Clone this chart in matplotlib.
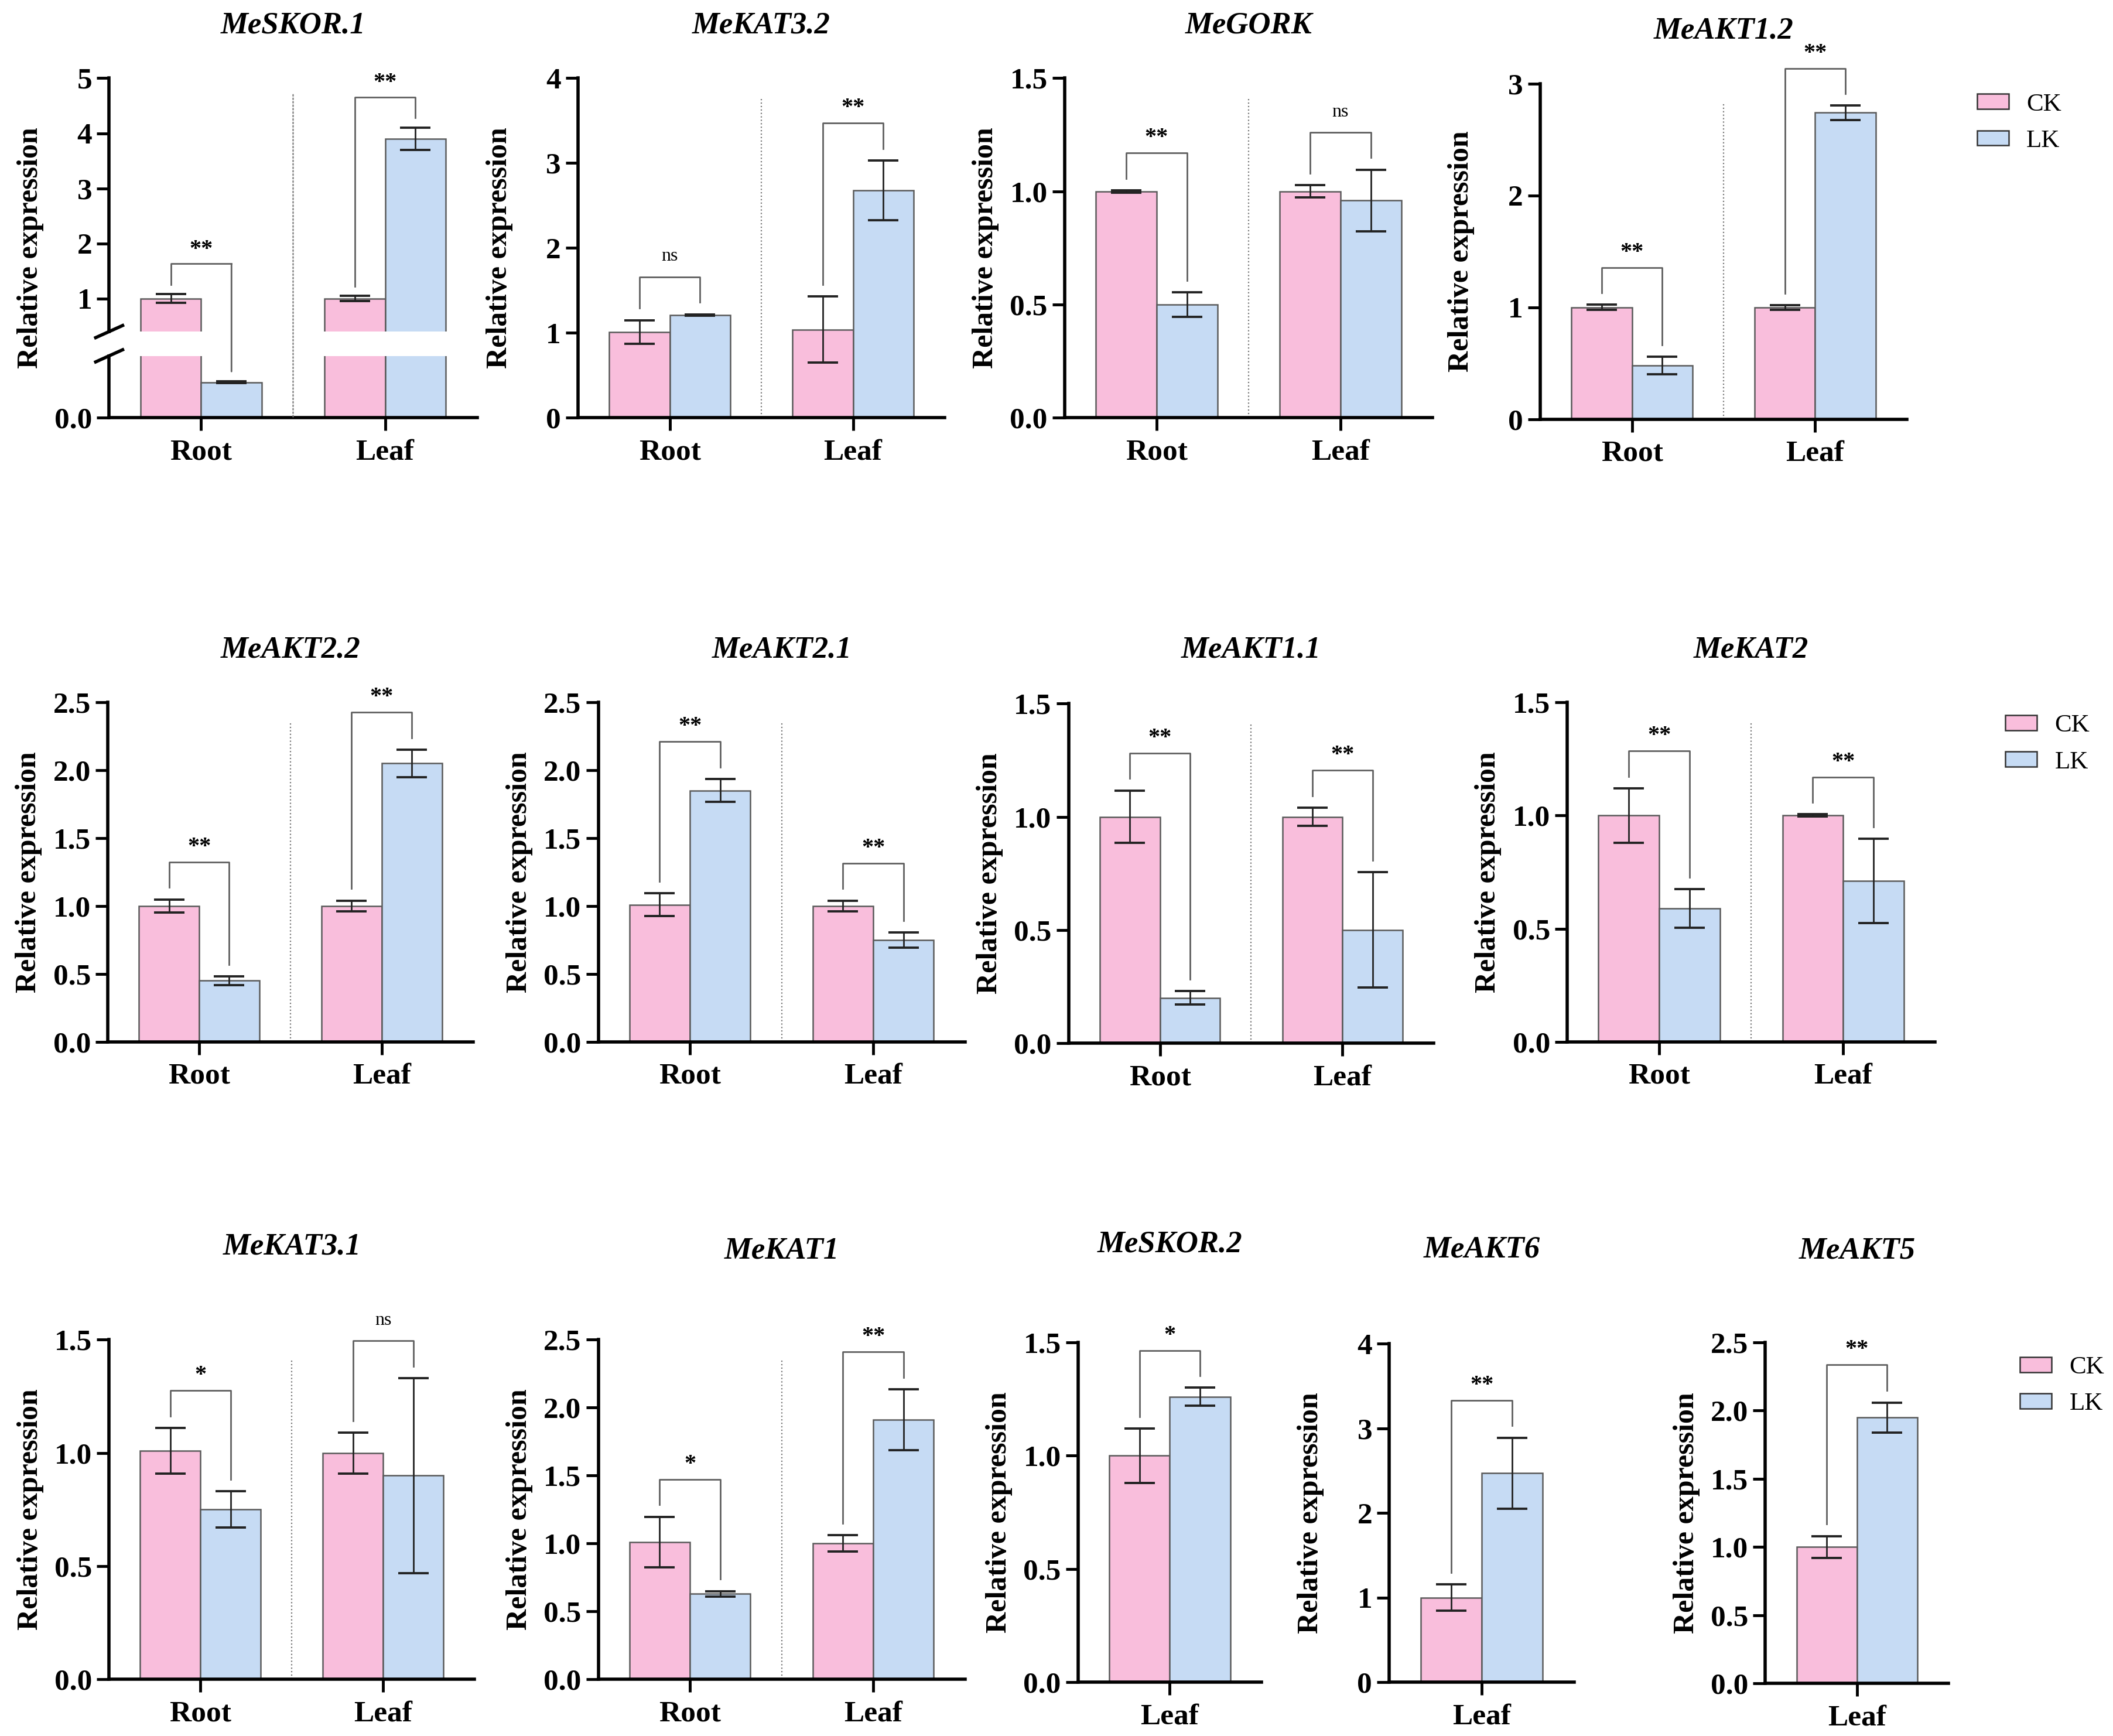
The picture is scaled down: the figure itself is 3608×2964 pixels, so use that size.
import numpy as np
import matplotlib
matplotlib.use('Agg')
import matplotlib.pyplot as plt
from matplotlib.patches import Patch, ConnectionPatch

plt.rcParams['font.family'] = ['Liberation Serif', 'DejaVu Serif']

# ---- data (mean and error of CK / LK) ----
genes = ['MeSKOR.1', 'MeKAT3.2', 'MeGORK', 'MeAKT1.2',
         'MeAKT2.2', 'MeAKT2.1', 'MeAKT1.1', 'MeKAT2',
         'MeKAT3.1', 'MeKAT1', 'MeSKOR.2', 'MeAKT6', 'MeAKT5']
tissues = [['Root', 'Leaf']] * 10 + [['Leaf']] * 3

ck_mean = [[1.00, 1.00], [1.01, 1.04], [1.00, 1.00], [1.00, 1.00],
           [1.00, 1.00], [1.01, 1.00], [1.00, 1.00], [1.00, 1.00],
           [1.01, 1.00], [1.01, 1.00], [1.00], [1.00], [1.00]]
ck_err = [[0.08, 0.05], [0.14, 0.39], [0.005, 0.027], [0.024, 0.02],
          [0.048, 0.04], [0.084, 0.04], [0.116, 0.04], [0.12, 0.005],
          [0.10, 0.09], [0.187, 0.06], [0.12], [0.155], [0.08]]
lk_mean = [[0.23, 3.90], [1.21, 2.68], [0.50, 0.96], [0.48, 2.74],
           [0.45, 2.05], [1.85, 0.75], [0.20, 0.50], [0.59, 0.71],
           [0.75, 0.90], [0.63, 1.91], [1.26], [2.47], [1.95]]
lk_err = [[0.005, 0.205], [0.01, 0.35], [0.055, 0.136], [0.08, 0.065],
          [0.033, 0.10], [0.085, 0.055], [0.03, 0.255], [0.085, 0.186],
          [0.08, 0.43], [0.02, 0.225], [0.04], [0.42], [0.11]]
signif = [['**', '**'], ['ns', '**'], ['**', 'ns'], ['**', '**'],
          ['**', '**'], ['**', '**'], ['**', '**'], ['**', '**'],
          ['*', 'ns'], ['*', '**'], ['*'], ['**'], ['**']]
y_max = [5, 4, 1.5, 3, 2.5, 2.5, 1.5, 1.5, 1.5, 2.5, 1.5, 4, 2.5]
y_step = [1, 1, 0.5, 1, 0.5, 0.5, 0.5, 0.5, 0.5, 0.5, 0.5, 1, 0.5]
# broken y axis of MeSKOR.1: lower part 0..0.4, upper part 0.4..5
break_at = 0.4

ck_color = '#F9BEDC'
lk_color = '#C6DBF4'
edge = '#5a5a5a'
BW = 0.33

# layout grid (reference scaled down by 2.3)
W, H = 1568, 1288
boxes = [(81, 354, 58, 310), (429, 701, 58, 310), (790, 1063, 58, 310), (1143, 1415, 62, 311),
         (80, 351, 521, 773), (444, 716, 521, 773), (793, 1064, 522, 774), (1163, 1436, 521, 773),
         (81, 352, 994, 1246), (444, 716, 994, 1246), (800, 936, 996, 1248),
         (1031, 1168, 997, 1248), (1310, 1446, 996, 1249)]
title_y = [19, 19, 19, 23, 482, 482, 482, 482, 925, 928, 923, 927, 928]
legend_pos = [(1467, 91), (1488, 552), (1499, 1028)]


def rect(left, right, top, bottom):
    return [left / W, 1 - bottom / H, (right - left) / W, (bottom - top) / H]


def style(ax, lw=4):
    for s in ['top', 'right']:
        ax.spines[s].set_visible(False)
    ax.spines['left'].set_linewidth(lw)
    ax.spines['bottom'].set_linewidth(lw)
    ax.tick_params(axis='y', direction='out', length=15, width=3.5, labelsize=37, pad=6)
    ax.tick_params(axis='x', direction='out', length=16, width=3.5, labelsize=37, pad=10)
    for lab in ax.get_yticklabels() + ax.get_xticklabels():
        lab.set_fontweight('bold')


def draw_bars(ax, i):
    x = np.arange(len(tissues[i]))
    ax.bar(x - BW / 2, ck_mean[i], BW, color=ck_color, edgecolor=edge, lw=1.8, zorder=2)
    ax.bar(x + BW / 2, lk_mean[i], BW, color=lk_color, edgecolor=edge, lw=1.8, zorder=2)
    ax.errorbar(x - BW / 2, ck_mean[i], yerr=ck_err[i], fmt='none', ecolor='#222',
                elinewidth=2, capsize=19, capthick=2.8, zorder=3)
    ax.errorbar(x + BW / 2, lk_mean[i], yerr=lk_err[i], fmt='none', ecolor='#222',
                elinewidth=2, capsize=19, capthick=2.8, zorder=3)
    ax.set_xlim(-0.5, len(x) - 0.5)
    return x


def bracket(ax, i, j, yr, ax_low=None, low_yr=None):
    x0, x1 = j - BW / 2, j + BW / 2
    t0 = ck_mean[i][j] + ck_err[i][j]
    t1 = lk_mean[i][j] + lk_err[i][j]
    h = max(t0, t1) + 0.11 * yr
    c = '#606060'
    if ax_low is not None and t1 < break_at:
        ax.plot([x0, x0, x1], [t0 + 0.035 * yr, h, h], color=c, lw=2, clip_on=False)
        con = ConnectionPatch(xyA=(x1, h), coordsA=ax.transData,
                              xyB=(x1, t1 + 0.16 * low_yr), coordsB=ax_low.transData,
                              color=c, lw=2)
        fig.add_artist(con)
    else:
        ax.plot([x0, x0, x1, x1], [t0 + 0.035 * yr, h, h, t1 + 0.035 * yr],
                color=c, lw=2, clip_on=False)
    lab = signif[i][j]
    if lab == 'ns':
        ax.text(j, h + 0.035 * yr, lab, ha='center', va='bottom', fontsize=23, clip_on=False)
    else:
        ax.text(j, h + 0.012 * yr, lab, ha='center', va='bottom', fontsize=29,
                fontweight='bold', clip_on=False)


def set_yticks(ax, i, lo=0):
    ticks = np.arange(lo, y_max[i] + y_step[i] / 2, y_step[i])
    ax.set_yticks(ticks)
    if y_step[i] >= 1:
        ax.set_yticklabels([f'{t:.0f}' for t in ticks])
    else:
        ax.set_yticklabels([f'{t:.1f}' for t in ticks])


fig = plt.figure(figsize=(36.08, 29.64), dpi=100)

for i, gene in enumerate(genes):
    left, right, top, bottom = boxes[i]
    wdisp = right - left
    if i == 0:
        # broken axis panel
        gap_top, gap_bot = 246, 264
        ax = fig.add_axes(rect(left, right, top, gap_top))
        axl = fig.add_axes(rect(left, right, gap_bot, bottom))
        for a in (ax, axl):
            x = draw_bars(a, i)
        ax.set_ylim(break_at, y_max[i])
        axl.set_ylim(0, break_at)
        ax.set_yticks(np.arange(1, y_max[i] + 0.5, 1))
        ax.set_yticklabels([f'{t:.0f}' for t in np.arange(1, y_max[i] + 0.5, 1)])
        axl.set_yticks([0])
        axl.set_yticklabels(['0.0'])
        ax.spines['bottom'].set_visible(False)
        ax.set_xticks([])
        axl.set_xticks(x)
        axl.set_xticklabels(tissues[i])
        style(ax)
        style(axl)
        # break marks on the y axis
        for a, yy in ((ax, 0.0), (axl, 1.0)):
            tr = a.transAxes
            hfrac = (a.get_position().height * H)
            dy = 9 / hfrac
            dx = 10 / wdisp
            a.plot([-dx, dx], [yy - dy / 2, yy + dy / 2], transform=tr, color='k', lw=4, clip_on=False)
        # dotted separator crossing the gap
        fig.add_artist(ConnectionPatch(xyA=(0.5, 0.94 * y_max[i]), coordsA=ax.transData,
                                       xyB=(0.5, 0), coordsB=axl.transData,
                                       color='#777', lw=1.6, ls=':'))
        for j in range(len(x)):
            bracket(ax, i, j, y_max[i], ax_low=axl, low_yr=break_at)
        ax.set_ylabel('Relative expression', fontsize=36, fontweight='bold', va='center')
        ax.yaxis.set_label_coords(-58.5 / wdisp, 0.5 - (bottom - gap_top) / (gap_top - top) / 2)
    else:
        ax = fig.add_axes(rect(left, right, top, bottom))
        x = draw_bars(ax, i)
        ax.set_ylim(0, y_max[i])
        set_yticks(ax, i)
        ax.set_xticks(x)
        ax.set_xticklabels(tissues[i])
        style(ax)
        if len(x) == 2:
            ax.plot([0.5, 0.5], [0, 0.94 * y_max[i]], color='#777', lw=1.6, ls=':', zorder=1)
        for j in range(len(x)):
            bracket(ax, i, j, y_max[i])
        ax.set_ylabel('Relative expression', fontsize=36, fontweight='bold', va='center')
        ax.yaxis.set_label_coords(-58.5 / wdisp, 0.5)
    fig.text((left + right) / 2 / W, 1 - title_y[i] / H, gene, ha='center', va='center',
             fontsize=38, fontweight='bold', fontstyle='italic')

handles = [Patch(facecolor=ck_color, edgecolor='#333', lw=1.8, label='CK'),
           Patch(facecolor=lk_color, edgecolor='#333', lw=1.8, label='LK')]
for lx, ly in legend_pos:
    fig.legend(handles=handles, loc='center left', bbox_to_anchor=(lx / W, 1 - ly / H),
               frameon=False, fontsize=31, handlelength=1.26, handleheight=0.55,
               handletextpad=0.7, labelspacing=0.55, borderpad=0, borderaxespad=0)

fig.savefig('out.png', dpi=100)
